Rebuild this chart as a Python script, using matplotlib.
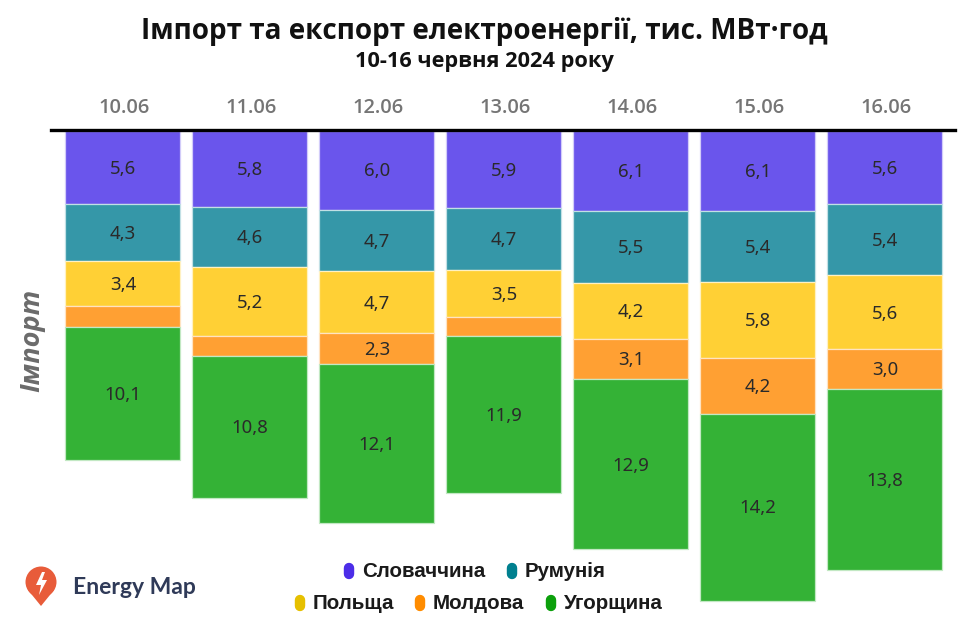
import numpy as np
import matplotlib
matplotlib.use('Agg')
import matplotlib.pyplot as plt
from matplotlib.colors import to_rgb
from matplotlib.patches import Circle, Polygon

dates = ['10.06', '11.06', '12.06', '13.06', '14.06', '15.06', '16.06']
slovakia = [5.6, 5.8, 6.0, 5.9, 6.1, 6.1, 5.6]
romania = [4.3, 4.6, 4.7, 4.7, 5.5, 5.4, 5.4]
poland = [3.4, 5.2, 4.7, 3.54, 4.2, 5.8, 5.6]
moldova = [1.6, 1.5, 2.3, 1.5, 3.1, 4.2, 3.0]
hungary = [10.1, 10.8, 12.1, 11.9, 12.9, 14.2, 13.8]
# Moldova values under 2 have no label in the picture
min_label = 2

names = ['Словаччина', 'Румунія', 'Польща', 'Молдова', 'Угорщина']
series = [slovakia, romania, poland, moldova, hungary]
bar_colors = ['#6a55ec', '#3597a8', '#ffd035', '#ffa033', '#34b236']
legend_colors = ['#4c2de8', '#00808f', '#e6c000', '#ff8c00', '#0ca00c']

W, H = 973, 623
fig = plt.figure(figsize=(W / 100, H / 100), dpi=100)

# chart area, in pixels of the picture
left, right, top, bottom = 51, 955, 130.5, 623
ax = fig.add_axes([left / W, 1 - bottom / H, (right - left) / W, (bottom - top) / H])
x = np.arange(len(dates))
ax.set_xlim(-0.566, 6.552)
ax.set_ylim((bottom - top) / 13.17, 0)

base = np.zeros(len(dates))
for vals, col in zip(series, bar_colors):
    vals = np.array(vals)
    edge = tuple(0.3 * c + 0.7 for c in to_rgb(col))
    ax.bar(x, vals, width=0.906, bottom=base, color=col, edgecolor=edge, linewidth=0.9)
    for i in range(len(dates)):
        if vals[i] >= min_label:
            ax.text(x[i], base[i] + vals[i] / 2 + 0.1, f'{vals[i]:.1f}'.replace('.', ','),
                    ha='center', va='center', fontsize=13.4, color='#2a2a2a',
                    family='Noto Sans')
    base = base + vals

for s in ['left', 'right', 'bottom']:
    ax.spines[s].set_visible(False)
ax.spines['top'].set_linewidth(2.4)
ax.spines['top'].set_color('black')
ax.spines['top'].set_position(('outward', 0.7))
ax.xaxis.tick_top()
ax.set_xticks(x + 0.012)
ax.set_xticklabels(dates, fontsize=14.4, color='#757575', family='Open Sans', weight='semibold')
ax.tick_params(axis='x', length=0, pad=8)
ax.set_yticks([])

# overlay in picture pixels for titles, legend and logo
ov = fig.add_axes([0, 0, 1, 1])
ov.set_xlim(0, W)
ov.set_ylim(H, 0)
ov.axis('off')

ov.text(484.5, 31, 'Імпорт та експорт електроенергії, тис. МВт·год', ha='center', va='center',
        fontsize=20.1, weight='bold', family='Open Sans', color='#111111')
ov.text(484, 62, '10-16 червня 2024 року', ha='center', va='center',
        fontsize=15.7, weight='bold', family='Open Sans', color='#111111')
ov.text(32, 340, 'Імпорт', rotation=90, ha='center', va='center', fontsize=19.5,
        weight='bold', style='italic', family='Open Sans', color='#6b6b6b')

# legend rows
legend_pos = [(349, 571), (512, 571), (300, 603), (420, 603), (551, 603)]
for (lx, ly), name, col in zip(legend_pos, names, legend_colors):
    ov.plot([lx, lx], [ly - 3, ly + 3], color=col, linewidth=7.5, solid_capstyle='round')
    ov.text(lx + 13, ly + 0.5, name, ha='left', va='center', fontsize=14.8, weight='bold',
            family='Liberation Sans', color='#1a1a1a')

# logo
ov.add_patch(Circle((41, 582), 15.5, color='#e85c3a', lw=0))
ov.add_patch(Polygon([(28, 590), (54, 590), (41, 606)], color='#e85c3a', lw=0))
ov.add_patch(Polygon([(42, 572), (36, 585), (41, 585), (39, 595), (47, 580), (42, 580), (45, 572)],
                     color='white', lw=0))
ov.text(73, 587, 'Energy Map', ha='left', va='center', fontsize=16.5, weight='bold',
        family='Lato', color='#2f3a58')

fig.savefig('out.png', dpi=100)
